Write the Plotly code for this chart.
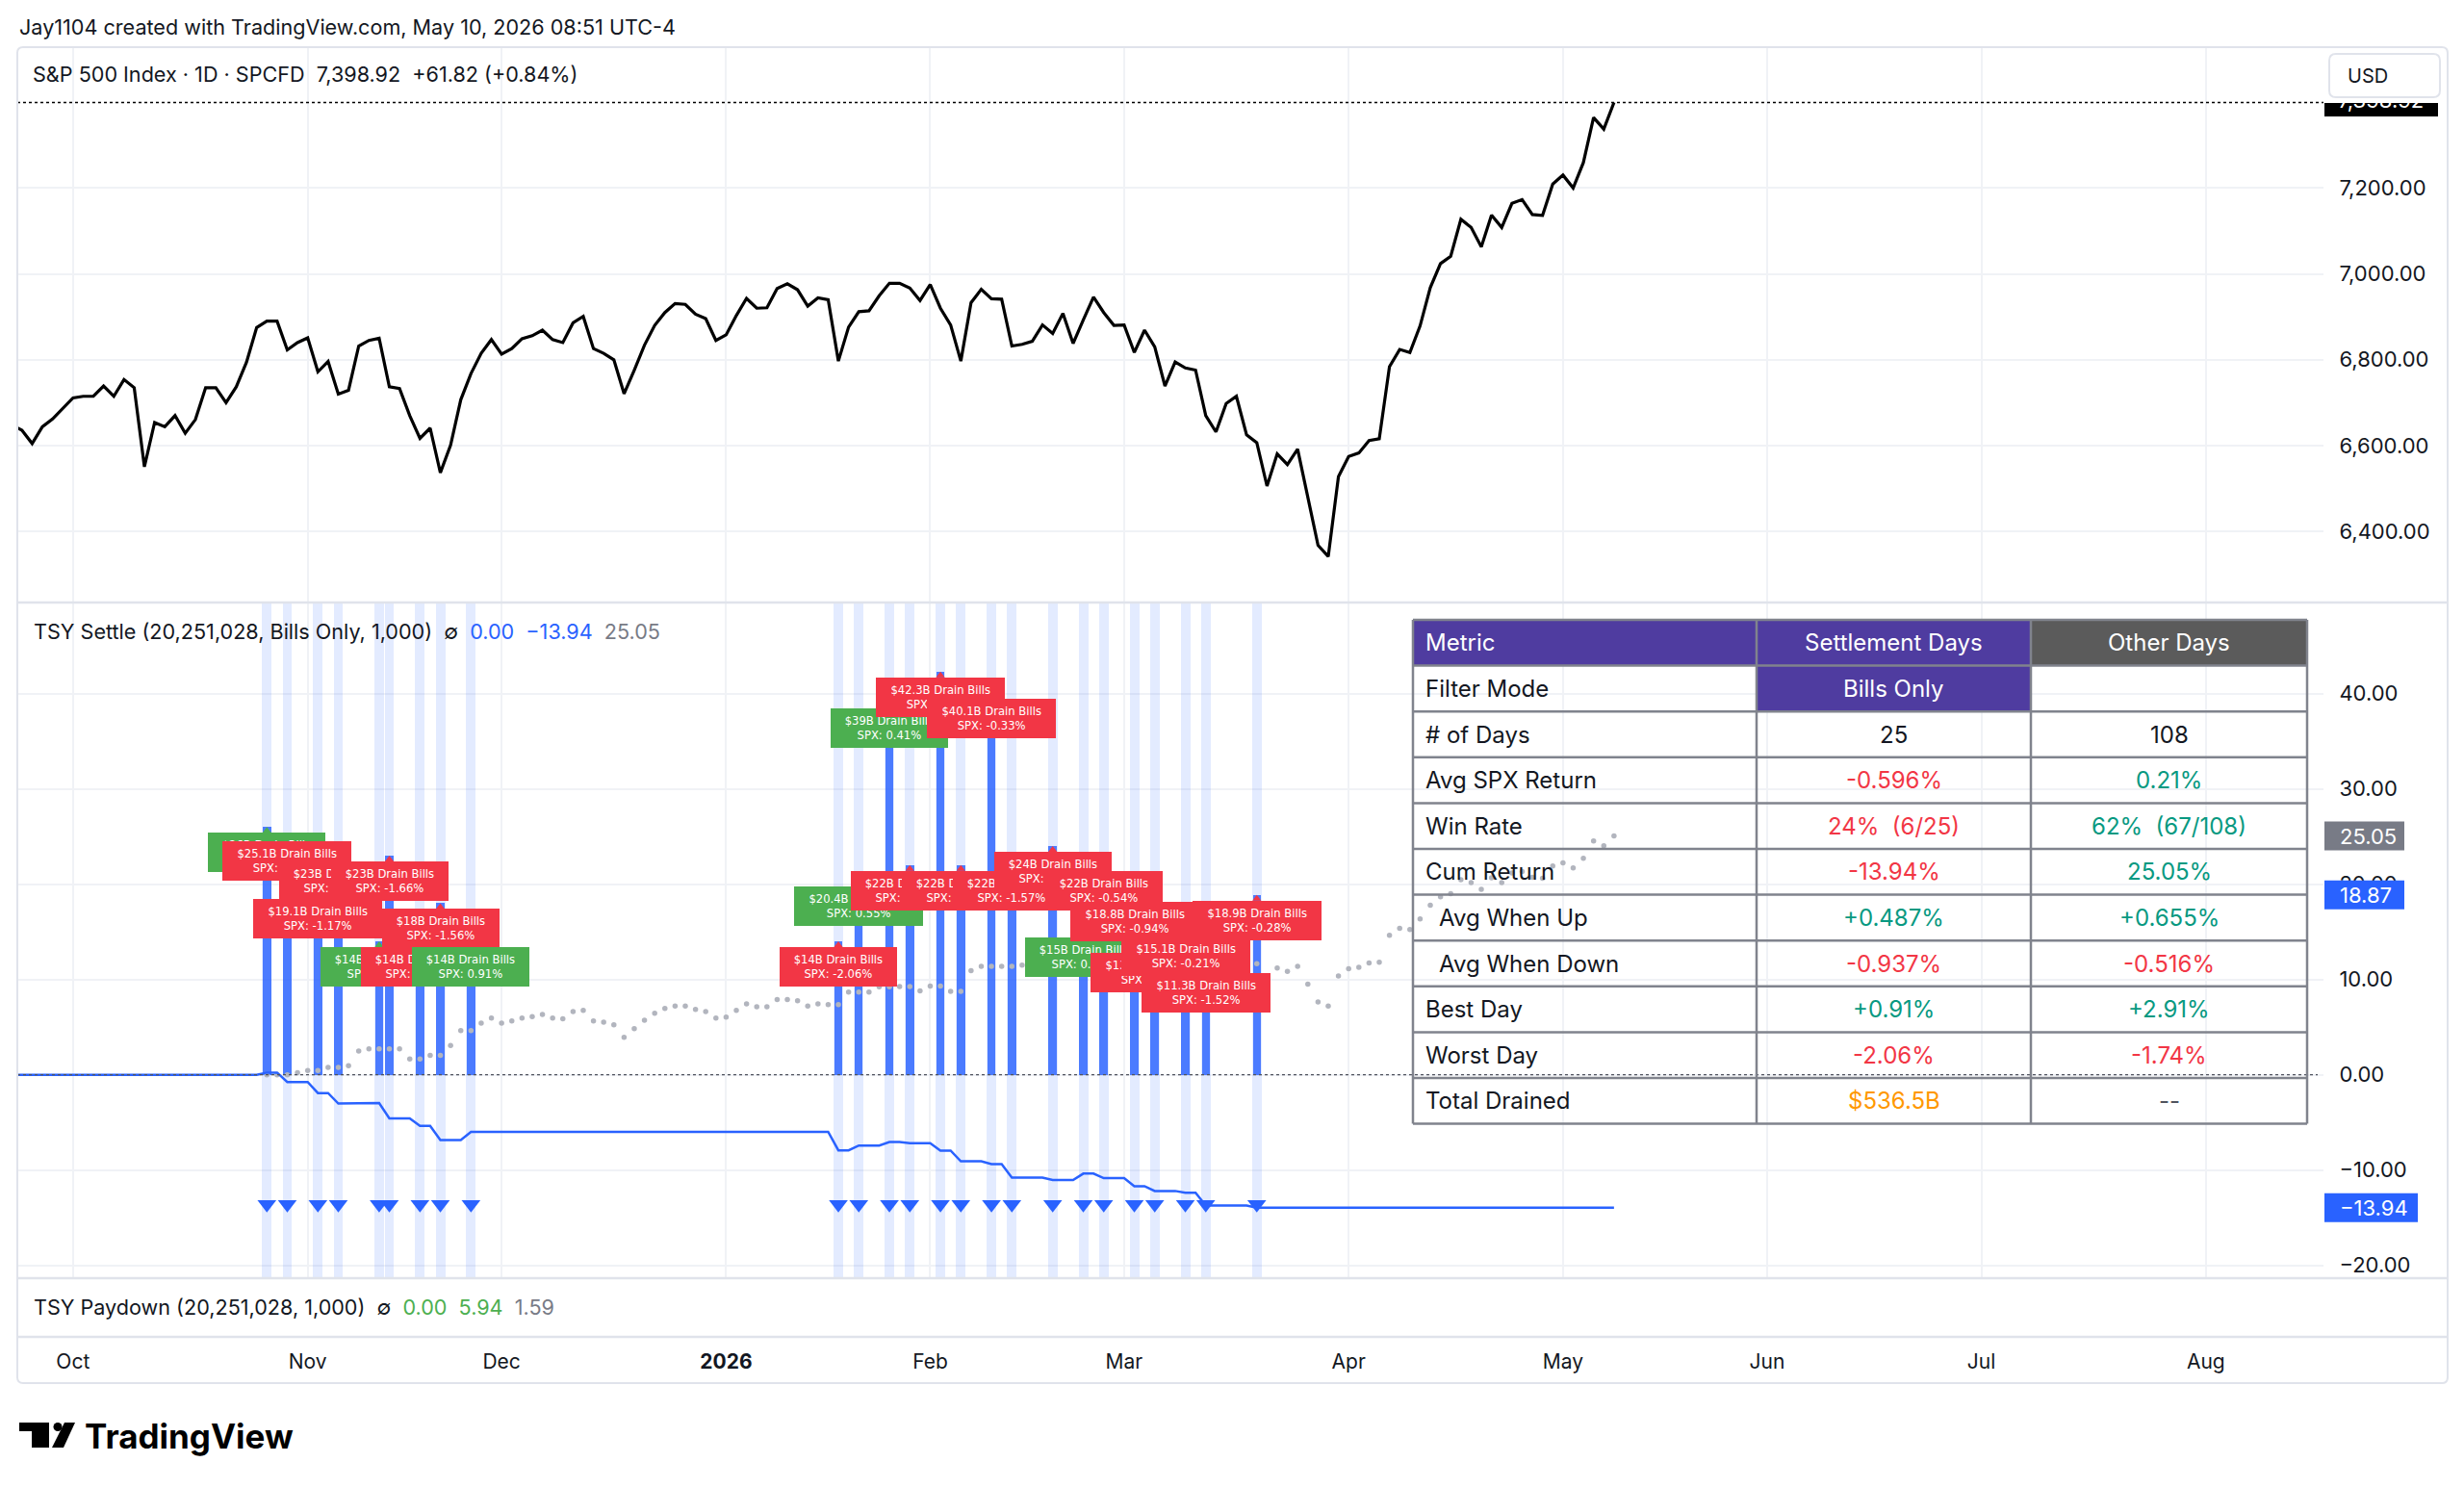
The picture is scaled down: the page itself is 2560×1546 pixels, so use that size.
import plotly.graph_objects as go

W, H = 2560, 1546

# ---------------- data ----------------
# trading days (day of month) per month
days_2025_09 = [23, 24, 25, 26, 29, 30]
days_2025_10 = [1, 2, 3, 6, 7, 8, 9, 10, 13, 14, 15, 16, 17, 20, 21, 22, 23, 24, 27, 28, 29, 30, 31]
days_2025_11 = [3, 4, 5, 6, 7, 10, 11, 12, 13, 14, 17, 18, 19, 20, 21, 24, 25, 26, 28]
days_2025_12 = [1, 2, 3, 4, 5, 8, 9, 10, 11, 12, 15, 16, 17, 18, 19, 22, 23, 24, 26, 29, 30, 31]
days_2026_01 = [2, 5, 6, 7, 8, 9, 12, 13, 14, 15, 16, 20, 21, 22, 23, 26, 27, 28, 29, 30]
days_2026_02 = [2, 3, 4, 5, 6, 9, 10, 11, 12, 13, 17, 18, 19, 20, 23, 24, 25, 26, 27]
days_2026_03 = [2, 3, 4, 5, 6, 9, 10, 11, 12, 13, 16, 17, 18, 19, 20, 23, 24, 25, 26, 27, 30, 31]
days_2026_04 = [1, 2, 6, 7, 8, 9, 10, 13, 14, 15, 16, 17, 20, 21, 22, 23, 24, 27, 28, 29, 30]
days_2026_05 = [1, 4, 5, 6, 7, 8]

# S&P 500 daily closes
close_2025_09 = [6648, 6636, 6605, 6644, 6662, 6686]
close_2025_10 = [6711, 6715, 6715, 6739, 6715, 6754, 6735, 6551, 6654, 6644, 6670, 6629, 6661, 6735, 6735,
                 6700, 6737, 6794, 6875, 6890, 6890, 6823, 6840]
close_2025_11 = [6851, 6772, 6796, 6720, 6729, 6832, 6845, 6850, 6737, 6733, 6670, 6617, 6641, 6537, 6601,
                 6707, 6768, 6815, 6847]
close_2025_12 = [6813, 6826, 6849, 6856, 6869, 6847, 6840, 6886, 6901, 6826, 6815, 6800, 6721, 6776, 6834,
                 6880, 6910, 6931, 6929, 6906, 6896, 6845]
close_2026_01 = [6858, 6903, 6943, 6920, 6921, 6966, 6977, 6963, 6925, 6944, 6940, 6797, 6876, 6912, 6914,
                 6949, 6978, 6978, 6967, 6938]
close_2026_02 = [6975, 6920, 6881, 6797, 6933, 6964, 6942, 6941, 6832, 6836, 6843, 6881, 6861, 6908, 6838,
                 6893, 6946, 6910, 6880]
close_2026_03 = [6881, 6817, 6869, 6830, 6739, 6795, 6781, 6776, 6670, 6632, 6698, 6715, 6625, 6607, 6506,
                 6581, 6556, 6592, 6480, 6368, 6342, 6528]
close_2026_04 = [6575, 6583, 6612, 6616, 6784, 6824, 6817, 6879, 6968, 7024, 7041, 7127, 7108, 7063, 7137,
                 7108, 7164, 7173, 7138, 7136, 7209]
close_2026_05 = [7230, 7200, 7259, 7364, 7337.10, 7398.92]

# Treasury bill settlement days (histogram + labels)
settle_dates = ["2025-10-28", "2025-10-30", "2025-11-04", "2025-11-06", "2025-11-12", "2025-11-13",
                "2025-11-18", "2025-11-20", "2025-11-25", "2026-01-20", "2026-01-22", "2026-01-27",
                "2026-01-29", "2026-02-03", "2026-02-05", "2026-02-10", "2026-02-12", "2026-02-19",
                "2026-02-24", "2026-02-26", "2026-03-03", "2026-03-05", "2026-03-10", "2026-03-12",
                "2026-03-19"]
drain_bn = [26.0, 25.1, 19.1, 23.0, 14.0, 23.0, 14.0, 18.0, 14.0, 14.0, 20.4, 39.0, 22.0, 42.3, 22.0,
            40.1, 22.0, 24.0, 15.0, 22.0, 18.8, 13.4, 15.1, 11.3, 18.87]
drain_text = ["$26B", "$25.1B", "$19.1B", "$23B", "$14B", "$23B", "$14B", "$18B", "$14B", "$14B",
              "$20.4B", "$39B", "$22B", "$42.3B", "$22B", "$40.1B", "$22B", "$24B", "$15B", "$22B",
              "$18.8B", "$13.4B", "$15.1B", "$11.3B", "$18.9B"]
spx_ret_pct = [0.23, -0.99, -1.17, -1.12, 0.06, -1.66, -0.83, -1.56, 0.91, -2.06, 0.55, 0.41, -0.13,
               -0.84, -1.23, -0.33, -1.57, -0.28, 0.77, -0.54, -0.94, -0.57, -0.21, -1.52, -0.28]
# cumulative SPX return on settlement days (after each settlement day)
settle_cum_pct = [0.23, -0.76, -1.92, -3.02, -2.96, -4.57, -5.37, -6.84, -5.99, -7.93, -7.42, -7.05,
                  -7.17, -7.95, -9.08, -9.38, -10.80, -11.05, -10.37, -10.85, -11.69, -12.19, -12.38,
                  -13.71, -13.94]

# cumulative SPX return on other days, from 2025-10-28 to 2026-05-08
other_start = "2025-10-28"
other_cum_oct = [0.00, 0.00, 0.00, 0.23]
other_cum_nov = [0.45, 0.45, 0.77, 0.77, 0.95, 2.48, 2.71, 2.71, 2.71, 2.71, 1.67, 1.67, 2.03, 2.03, 3.07,
                 4.65, 4.65, 5.42, 5.96]
other_cum_dec = [5.42, 5.64, 5.96, 6.09, 6.32, 5.96, 5.87, 6.64, 6.77, 5.64, 5.51, 5.24, 3.93, 4.83, 5.73,
                 6.46, 6.95, 7.22, 7.22, 6.86, 6.64, 5.96]
other_cum_jan = [6.05, 6.77, 7.45, 7.13, 7.13, 7.90, 7.90, 7.77, 7.22, 7.45, 7.36, 7.36, 8.67, 8.67, 8.67,
                 9.22, 9.22, 9.26, 9.26, 8.80]
other_cum_feb = [9.30, 9.30, 8.76, 8.76, 10.93, 11.38, 11.38, 11.38, 11.38, 11.51, 11.62, 12.25, 12.25,
                 13.02, 11.88, 11.88, 12.74, 12.74, 12.25]
other_cum_mar = [12.26, 12.26, 13.11, 13.11, 11.60, 12.53, 12.53, 12.45, 12.45, 11.81, 12.92, 13.20, 11.69,
                 11.65, 9.94, 11.19, 10.85, 11.39, 9.50, 7.65, 7.21, 10.38]
other_cum_apr = [11.12, 11.29, 11.73, 11.80, 14.63, 15.37, 15.23, 16.35, 17.80, 18.67, 19.01, 20.46, 20.16,
                 19.45, 20.66, 20.16, 21.17, 21.33, 20.73, 20.63, 21.91]
other_cum_may = [22.24, 21.71, 22.72, 24.54, 24.03, 25.05]

# axis ticks
month_tick_dates = ["2025-10-01", "2025-11-03", "2025-12-01", "2026-01-02", "2026-02-02", "2026-03-02",
                    "2026-04-01", "2026-05-01", "2026-06-01", "2026-07-01", "2026-08-03"]
month_tick_text = ["Oct", "Nov", "Dec", "<b>2026</b>", "Feb", "Mar", "Apr", "May", "Jun", "Jul", "Aug"]
price_ticks = [6400, 6600, 6800, 7000, 7200]
settle_ticks = [-20, -10, 0, 10, 20, 30, 40]
market_holidays = ["2025-11-27", "2025-12-25", "2026-01-01", "2026-01-19", "2026-02-16", "2026-04-03",
                   "2026-05-25", "2026-06-19", "2026-07-03"]

# stats table
table_header = ["Metric", "Settlement Days", "Other Days"]
table_metrics = ["Filter Mode", "# of Days", "Avg SPX Return", "Win Rate", "Cum Return", "Avg When Up",
                 "Avg When Down", "Best Day", "Worst Day", "Total Drained"]
table_settle = ["Bills Only", "25", "-0.596%", "24%  (6/25)", "-13.94%", "+0.487%", "-0.937%", "+0.91%",
                "-2.06%", "$536.5B"]
table_other = ["", "108", "0.21%", "62%  (67/108)", "25.05%", "+0.655%", "-0.516%", "+2.91%", "-1.74%", "--"]

# ---------------- style ----------------
FONT = "Inter, Roboto, 'Noto Sans', sans-serif"
LBL_FONT = "'DejaVu Sans', Verdana, sans-serif"
TXT = "#131722"
GRID = "#f0f2f6"
SEP = "#e0e3eb"
BLUE = "#2962ff"
RED = "#f23645"
GREEN_LBL = "#4caf50"
TEAL = "#089981"
ORANGE = "#ff9800"
GRAY = "#787b86"
PURPLE = "#4f3ca0"
HDR_GRAY = "#5b5b5b"
DAY_MS = 86400000
LEG = 21.6

X_L, X_R = 18, 2414
X_START, X_END = "2025-09-24 01:08", "2026-08-19 00:30"


def px(x):
    return x / W


def py(y):
    return 1 - y / H


def P(x, y):
    return f"{px(x):.6f},{py(y):.6f}"


def poly_path(pts):
    return "M" + " L".join(P(x, y) for x, y in pts) + " Z"


def rrect_path(x0, y0, x1, y1, r):
    return (f"M{P(x0 + r, y0)} L{P(x1 - r, y0)} Q{P(x1, y0)} {P(x1, y0 + r)} L{P(x1, y1 - r)} "
            f"Q{P(x1, y1)} {P(x1 - r, y1)} L{P(x0 + r, y1)} Q{P(x0, y1)} {P(x0, y1 - r)} "
            f"L{P(x0, y0 + r)} Q{P(x0, y0)} {P(x0 + r, y0)} Z")


def rect_px(x0, y0, x1, y1, **kw):
    return dict(type="rect", xref="paper", yref="paper", x0=px(x0), x1=px(x1), y0=py(y1), y1=py(y0), **kw)


def line_px(x0, y0, x1, y1, color, width, dash="solid", layer="above"):
    return dict(type="line", xref="paper", yref="paper", x0=px(x0), x1=px(x1), y0=py(y0), y1=py(y1),
                line=dict(color=color, width=width, dash=dash), layer=layer)


# ---------------- derived series ----------------
months = [("2025-09", days_2025_09), ("2025-10", days_2025_10), ("2025-11", days_2025_11),
          ("2025-12", days_2025_12), ("2026-01", days_2026_01), ("2026-02", days_2026_02),
          ("2026-03", days_2026_03), ("2026-04", days_2026_04), ("2026-05", days_2026_05)]
dates = [f"{m}-{d:02d}" for m, ds in months for d in ds]
close = (close_2025_09 + close_2025_10 + close_2025_11 + close_2025_12 + close_2026_01 + close_2026_02
         + close_2026_03 + close_2026_04 + close_2026_05)
other_cum = (other_cum_oct + other_cum_nov + other_cum_dec + other_cum_jan + other_cum_feb + other_cum_mar
             + other_cum_apr + other_cum_may)
assert len(dates) == len(close)

xd = [f"{d} 12:00" for d in dates]
settle_x = [f"{d} 12:00" for d in settle_dates]
i0 = dates.index(other_start)
other_x = xd[i0:]
assert len(other_x) == len(other_cum)

settle_map = dict(zip(settle_dates, settle_cum_pct))
cum_line, cur = [], 0.0
for d in dates:
    if d in settle_map:
        cur = settle_map[d]
    cum_line.append(cur)

label_colors = [GREEN_LBL if r > 0 else RED for r in spx_ret_pct]
tick_x = [f"{d} 12:00" for d in month_tick_dates]

# ---------------- traces ----------------
fig = go.Figure()

# price pane
fig.add_trace(go.Scatter(x=xd, y=close, mode="lines", line=dict(color="#000000", width=3.2),
                         xaxis="x", yaxis="y", hoverinfo="skip"))

# settlement-day background bands
fig.add_trace(go.Bar(x=settle_x, y=[120] * len(settle_x), base=-40, width=0.94 * DAY_MS,
                     marker=dict(color="rgba(41,98,255,0.13)", line=dict(width=0)),
                     xaxis="x2", yaxis="y2", hoverinfo="skip"))
# drain histogram
fig.add_trace(go.Bar(x=settle_x, y=drain_bn, width=0.8 * DAY_MS,
                     marker=dict(color="rgba(41,98,255,0.82)", line=dict(width=0)),
                     xaxis="x2", yaxis="y2", hoverinfo="skip"))
# other days cumulative (dots)
fig.add_trace(go.Scatter(x=other_x, y=other_cum, mode="markers",
                         marker=dict(size=5.5, color="#b2b5be"), xaxis="x2", yaxis="y2", hoverinfo="skip"))
# settlement cumulative line
fig.add_trace(go.Scatter(x=xd, y=cum_line, mode="lines", line=dict(color=BLUE, width=2.5),
                         xaxis="x2", yaxis="y2", hoverinfo="skip"))
# label pointer triangles
fig.add_trace(go.Scatter(x=settle_x, y=[v - 0.4 for v in drain_bn], mode="markers",
                         marker=dict(symbol="triangle-up", size=8, color=label_colors, line=dict(width=0)),
                         xaxis="x2", yaxis="y2", hoverinfo="skip"))
# settlement markers at bottom
fig.add_trace(go.Scatter(x=settle_x, y=[-13.6] * len(settle_x), mode="markers",
                         marker=dict(symbol="triangle-down", size=17, color=BLUE, line=dict(width=0)),
                         xaxis="x2", yaxis="y2", hoverinfo="skip"))
# paydown pane (empty, holds the time axis)
fig.add_trace(go.Scatter(x=[xd[0]], y=[-5], mode="markers", marker=dict(opacity=0),
                         xaxis="x3", yaxis="y3", hoverinfo="skip"))
# clipped last-price text in the price scale
fig.add_trace(go.Scatter(x=[0.12], y=[1.07], mode="text", text=[f"{close[-1]:,.2f}"],
                         textposition="middle right", textfont=dict(color="white", size=22, family=FONT),
                         cliponaxis=True, xaxis="x4", yaxis="y4", hoverinfo="skip"))

# ---------------- axes ----------------
rb = [dict(bounds=["sat", "mon"]), dict(values=market_holidays)]
xbase = dict(type="date", range=[X_START, X_END], rangebreaks=rb, tickvals=tick_x, ticktext=month_tick_text,
             gridcolor=GRID, gridwidth=1.5, zeroline=False, showline=False, domain=[px(X_L), px(X_R)],
             fixedrange=True, automargin=False)
ybase = dict(side="right", gridcolor=GRID, gridwidth=1.5, zeroline=False, showline=False, ticks="outside",
             ticklen=11, tickcolor="rgba(0,0,0,0)", tickfont=dict(size=22, color=TXT, family=FONT),
             fixedrange=True, automargin=False)

price_rng = [6237.1, 7527.8]
settle_rng = [-21.24, 49.45]

fig.update_layout(
    xaxis=dict(xbase, anchor="y", showgrid=True, showticklabels=False),
    yaxis=dict(ybase, anchor="x", domain=[py(625), py(49)], range=price_rng, tickvals=price_ticks,
               ticktext=[f"{v:,.2f}" for v in price_ticks], showgrid=True),
    xaxis2=dict(xbase, anchor="y2", showgrid=True, showticklabels=False),
    yaxis2=dict(ybase, anchor="x2", domain=[py(1327), py(627)], range=settle_rng, tickvals=settle_ticks,
                ticktext=[f"{v:.2f}".replace("-", "\u2212") for v in settle_ticks], showgrid=True),
    xaxis3=dict(xbase, anchor="y3", showgrid=False, showticklabels=True, ticks="outside", ticklen=8,
                tickcolor="rgba(0,0,0,0)", tickfont=dict(size=21, color=TXT, family=FONT)),
    yaxis3=dict(anchor="x3", domain=[py(1388), py(1329)], range=[0, 1], showgrid=False, showticklabels=False,
                zeroline=False, showline=False, ticks="", fixedrange=True, automargin=False),
    xaxis4=dict(anchor="y4", domain=[px(2415), px(2533)], range=[0, 1], visible=False, fixedrange=True),
    yaxis4=dict(anchor="x4", domain=[py(121), py(107)], range=[0, 1], visible=False, fixedrange=True),
)

# ---------------- shapes ----------------
shapes = []
# price scale last-price box (under the clipped text)
shapes.append(rect_px(2415, 107, 2533, 121, fillcolor="#000000", line=dict(width=0), layer="below"))
# dotted last price line
shapes.append(dict(type="line", xref="paper", yref="y", x0=px(X_L), x1=px(X_R), y0=close[-1], y1=close[-1],
                   line=dict(color="#000000", width=1.5, dash="dot"), layer="above"))
# zero line in lower pane
shapes.append(dict(type="line", xref="paper", yref="y2", x0=px(X_L), x1=px(2408), y0=0, y1=0,
                   line=dict(color="#50535e", width=1.3, dash="dot"), layer="above"))
# pane separators
for yy in (626, 1328, 1389):
    shapes.append(line_px(18, yy, 2543, yy, SEP, 2.5))
# chart frame
shapes.append(dict(type="path", xref="paper", yref="paper", path=rrect_path(18, 49, 2543, 1437, 6),
                   line=dict(color=SEP, width=2), fillcolor="rgba(0,0,0,0)", layer="above"))
# USD button
shapes.append(dict(type="path", xref="paper", yref="paper", path=rrect_path(2420, 56, 2535, 101, 7),
                   line=dict(color=SEP, width=2), fillcolor="#ffffff", layer="above"))

# right-scale value boxes for lower pane
val_boxes = [(other_cum[-1], GRAY, 2498), (drain_bn[-1], BLUE, 2498), (settle_cum_pct[-1], BLUE, 2512)]
for v, c, xr in val_boxes:
    shapes.append(dict(type="rect", xref="paper", x0=px(2415), x1=px(xr), yref="y2", ysizemode="pixel",
                       yanchor=v, y0=-15, y1=15, fillcolor=c, line=dict(width=0), layer="above"))

# table
C = [1468, 1825, 2110, 2397]
T0, RH = 644, 47.6
NR = 11
rows_y = [T0 + RH * i for i in range(NR + 1)]
shapes.append(rect_px(C[0], rows_y[0], C[1], rows_y[1], fillcolor=PURPLE, line=dict(width=0), layer="above"))
shapes.append(rect_px(C[1], rows_y[0], C[2], rows_y[1], fillcolor=PURPLE, line=dict(width=0), layer="above"))
shapes.append(rect_px(C[2], rows_y[0], C[3], rows_y[1], fillcolor=HDR_GRAY, line=dict(width=0), layer="above"))
shapes.append(rect_px(C[1], rows_y[1], C[2], rows_y[2], fillcolor=PURPLE, line=dict(width=0), layer="above"))
BORDER = "#80838d"
for yy in rows_y:
    shapes.append(line_px(C[0], yy, C[3], yy, BORDER, 2.5))
for xx in C:
    shapes.append(line_px(xx, rows_y[0], xx, rows_y[-1], BORDER, 2.5))

# TradingView logo
LOGO = "#000000"
shapes.append(dict(type="path", xref="paper", yref="paper",
                   path=poly_path([(20, 1478), (51, 1478), (51, 1504), (33, 1504), (33, 1487), (20, 1487)]),
                   fillcolor=LOGO, line=dict(width=0), layer="above"))
shapes.append(dict(type="circle", xref="paper", yref="paper", x0=px(55.5), x1=px(64.5), y0=py(1487),
                   y1=py(1478), fillcolor=LOGO, line=dict(width=0), layer="above"))
shapes.append(dict(type="path", xref="paper", yref="paper",
                   path=poly_path([(67, 1478), (78, 1478), (66, 1504), (54, 1504)]),
                   fillcolor=LOGO, line=dict(width=0), layer="above"))

# ---------------- annotations ----------------
ann = []


def text_px(x, y, text, size=20, color=TXT, xanchor="left", weight=None):
    f = dict(size=size, color=color, family=FONT)
    if weight:
        f["weight"] = weight
    return dict(xref="paper", yref="paper", x=px(x), y=py(y), text=text, showarrow=False, xanchor=xanchor,
                yanchor="middle", font=f)


ann.append(text_px(18, 28, "Jay1104 created with TradingView.com, May 10, 2026 08:51 UTC-4", LEG))
ann.append(text_px(32, 77, "S&amp;P 500 Index · 1D · SPCFD\u00a0\u00a07,398.92\u00a0\u00a0+61.82 (+0.84%)", LEG))
ann.append(text_px(2437, 79, "USD", 20))
ann.append(text_px(33, 656,
                   "TSY Settle (20,251,028, Bills Only, 1,000)\u00a0\u00a0∅\u00a0\u00a0"
                   f"<span style='color:{BLUE}'>0.00</span>\u00a0\u00a0"
                   f"<span style='color:{BLUE}'>\u221213.94</span>\u00a0\u00a0"
                   f"<span style='color:{GRAY}'>25.05</span>", LEG))
ann.append(text_px(33, 1358,
                   "TSY Paydown (20,251,028, 1,000)\u00a0\u00a0∅\u00a0\u00a0"
                   f"<span style='color:{GREEN_LBL}'>0.00</span>\u00a0\u00a0"
                   f"<span style='color:{GREEN_LBL}'>5.94</span>\u00a0\u00a0"
                   f"<span style='color:{GRAY}'>1.59</span>", LEG))
ann.append(text_px(86, 1492, "TradingView", 35, LOGO, weight=700))

# value box texts
for v, c, xr in val_boxes:
    ann.append(dict(xref="paper", yref="y2", x=px(2429), y=v, text=f"{v:.2f}".replace("-", "\u2212"),
                    showarrow=False, xanchor="left", yanchor="middle",
                    font=dict(size=22, color="white", family=FONT)))

# drain labels (chronological, later on top)
for i in range(len(settle_x)):
    l1 = f"{drain_text[i]} Drain Bills"
    l2 = f"SPX: {spx_ret_pct[i]:.2f}%"
    wbox = 6.3 * max(len(l1), len(l2)) + 21
    ann.append(dict(xref="x2", yref="y2", x=settle_x[i], y=drain_bn[i], text=f"{l1}<br>{l2}",
                    showarrow=False, xanchor="center", yanchor="top", yshift=-6, bgcolor=label_colors[i],
                    borderpad=4, borderwidth=1, bordercolor=label_colors[i], width=wbox - 10, height=31,
                    align="center", font=dict(size=11.6, color="white", family=LBL_FONT)))

# table text
row_c = [(rows_y[i] + rows_y[i + 1]) / 2 for i in range(NR)]
col_c = [(C[1] + C[2]) / 2, (C[2] + C[3]) / 2]
ann.append(text_px(1479, row_c[0], table_header[0], 24, "#ffffff"))
ann.append(text_px(col_c[0], row_c[0], table_header[1], 24, "#ffffff", "center"))
ann.append(text_px(col_c[1], row_c[0], table_header[2], 24, "#ffffff", "center"))
settle_colors = ["#ffffff", TXT, RED, RED, RED, TEAL, RED, TEAL, RED, ORANGE]
other_colors = [TXT, TXT, TEAL, TEAL, TEAL, TEAL, RED, TEAL, RED, "#50535e"]
indent = [0, 0, 0, 0, 0, 14, 14, 0, 0, 0]
for r in range(len(table_metrics)):
    yc = row_c[r + 1]
    ann.append(text_px(1479 + indent[r], yc, table_metrics[r], 24, TXT))
    ann.append(text_px(col_c[0], yc, table_settle[r], 24, settle_colors[r], "center"))
    if table_other[r]:
        ann.append(text_px(col_c[1], yc, table_other[r], 24, other_colors[r], "center"))

fig.update_layout(
    width=W, height=H, autosize=False,
    margin=dict(l=0, r=0, t=0, b=0, pad=0),
    paper_bgcolor="#ffffff", plot_bgcolor="rgba(0,0,0,0)",
    showlegend=False, barmode="overlay", bargap=0,
    font=dict(family=FONT, color=TXT),
    shapes=shapes, annotations=ann,
    hovermode=False,
)

fig.write_html("out.html", include_plotlyjs=True, full_html=True,
               config={"displayModeBar": False},
               post_script="document.body.style.margin='0';document.body.style.overflow='hidden';")
